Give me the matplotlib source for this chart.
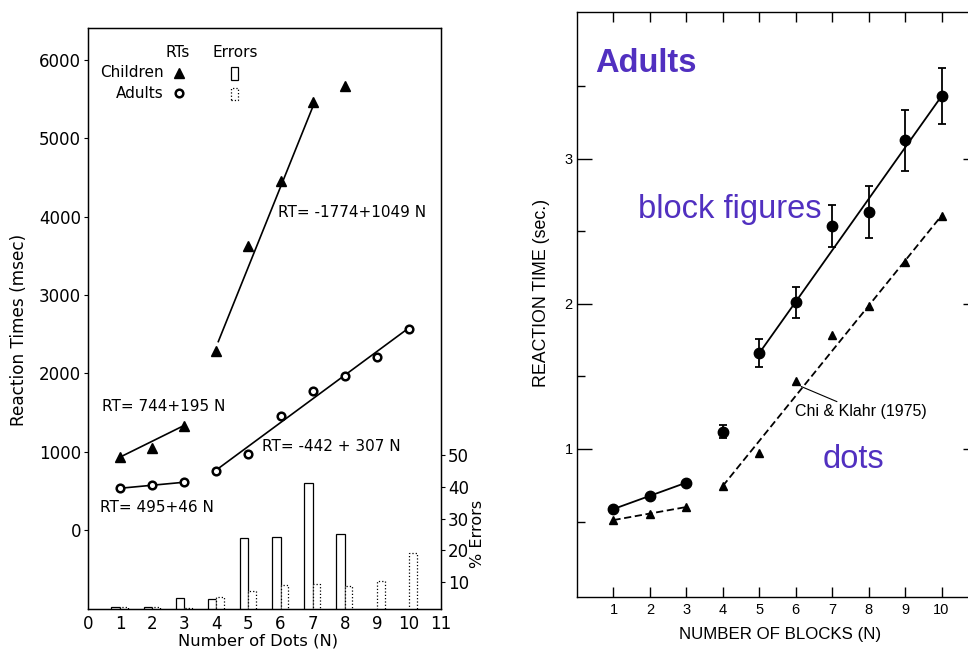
import matplotlib
matplotlib.use('Agg')
import matplotlib.pyplot as plt
from matplotlib.patches import Rectangle

# ---------------- Left panel data (Number of Dots) ----------------
n_dots = [1, 2, 3, 4, 5, 6, 7, 8, 9, 10]
child_n = [1, 2, 3, 4, 5, 6, 7, 8]
child_rt = [935, 1050, 1330, 2280, 3620, 4450, 5470, 5675]
adult_rt = [530, 575, 610, 757, 970, 1460, 1775, 1970, 2205, 2565]
child_err = [2.0, 2.0, 5.0, 4.7, 23.9, 24.3, 41.1, 25.1]
adult_err = [2.0, 2.0, 1.8, 5.4, 7.3, 9.1, 9.4, 8.6, 10.2, 19.1]
child_fit1_n, child_fit1_rt = [1, 3], [930, 1335]
child_fit2_n, child_fit2_rt = [4.06, 7.05], [2405, 5450]
adult_fit1_n, adult_fit1_rt = [1, 3], [532, 609]
adult_fit2_n, adult_fit2_rt = [4, 10], [766, 2580]
left_yticks = [0, 1000, 2000, 3000, 4000, 5000, 6000]
left_xticks = [0, 1, 2, 3, 4, 5, 6, 7, 8, 9, 10, 11]
err_ticks = [10, 20, 30, 40, 50]

# ---------------- Right panel data (Number of Blocks) ----------------
n_blocks = [1, 2, 3, 4, 5, 6, 7, 8, 9, 10]
block_rt = [0.586, 0.676, 0.768, 1.12, 1.66, 2.009, 2.533, 2.63, 3.126, 3.43]
block_sem = [0, 0, 0, 0.045, 0.097, 0.11, 0.145, 0.18, 0.21, 0.195]
dots_rt = [0.51, 0.55, 0.60, 0.745, 0.975, 1.469, 1.786, 1.986, 2.29, 2.607]
block_fit1_n, block_fit1_rt = [1, 3], [0.586, 0.768]
block_fit2_n, block_fit2_rt = [5, 10], [1.66, 3.43]
dots_fit1_n, dots_fit1_rt = [1, 3], [0.51, 0.60]
dots_fit2_n, dots_fit2_rt = [4, 10], [0.745, 2.607]

PURPLE = '#5130c0'

fig = plt.figure(figsize=(9.68, 6.49), dpi=100)

# ================= LEFT PANEL =================
axL = fig.add_axes([88/968, 1-609/649, 353/968, 581/649])
axL.set_xlim(0, 11)
axL.set_ylim(-1010, 6410)
for s in axL.spines.values():
    s.set_linewidth(1.0)

axE = axL.twinx()
axE.set_ylim(1.5, 184.5)
axE.set_yticks(err_ticks)
axE.tick_params(axis='y', direction='out', length=3, width=0.8, labelsize=12, pad=2)

# error bars
axE.bar([n - 0.27 for n in child_n], child_err, width=0.27, align='edge',
        facecolor='white', edgecolor='black', linewidth=0.9, zorder=1)
axE.bar(n_dots, adult_err, width=0.24, align='edge',
        facecolor='white', edgecolor='black', linewidth=0.9, linestyle=':', zorder=1)
axE.set_ylabel('% Errors', fontsize=11.5, rotation=90)
axE.yaxis.set_label_coords(1.082, 0.13)

axL.set_zorder(axE.get_zorder() + 1)
axL.patch.set_visible(False)

# RT lines
axL.plot(child_fit1_n, child_fit1_rt, color='black', lw=1.2)
axL.plot(child_fit2_n, child_fit2_rt, color='black', lw=1.2)
axL.plot(adult_fit1_n, adult_fit1_rt, color='black', lw=1.2)
axL.plot(adult_fit2_n, adult_fit2_rt, color='black', lw=1.2)
axL.plot(child_n, child_rt, linestyle='none', marker='^', ms=7, color='black')
axL.plot(n_dots, adult_rt, linestyle='none', marker='o', ms=5.5, mfc='white',
         mec='black', mew=1.8)

axL.set_yticks(left_yticks)
axL.set_xticks(left_xticks)
axL.tick_params(axis='y', direction='out', length=3, width=0.8, labelsize=12, pad=2)
axL.tick_params(axis='x', length=0, labelsize=12, pad=4)
axL.set_xlabel('Number of Dots (N)', fontsize=11.8)
axL.xaxis.set_label_coords(0.4816, -0.042)
axL.set_ylabel('Reaction Times (msec)', fontsize=12.2)
axL.yaxis.set_label_coords(-0.17, 0.48)

# equations
axL.text(5.92, 4001, 'RT= -1774+1049 N', fontsize=11)
axL.text(0.44, 1524, 'RT= 744+195 N', fontsize=11)
axL.text(5.41, 1013, 'RT= -442 + 307 N', fontsize=11)
axL.text(0.37, 226, 'RT= 495+46 N', fontsize=11)

# legend (drawn manually in axes coordinates)
tA = axL.transAxes
axL.text(0.255, 0.950, 'RTs', transform=tA, fontsize=11, ha='center')
axL.text(0.416, 0.950, 'Errors', transform=tA, fontsize=11, ha='center')
axL.text(0.215, 0.9157, 'Children', transform=tA, fontsize=11, ha='right')
axL.text(0.215, 0.8795, 'Adults', transform=tA, fontsize=11, ha='right')
axL.plot([0.258], [0.9225], transform=tA, marker='^', ms=7, color='black')
axL.plot([0.258], [0.888], transform=tA, marker='o', ms=5.5, mfc='white',
         mec='black', mew=1.8)
axL.add_patch(Rectangle((0.406, 0.9105), 0.02, 0.0225, transform=tA,
                        facecolor='white', edgecolor='black', lw=0.9))
axL.add_patch(Rectangle((0.406, 0.876), 0.02, 0.0205, transform=tA,
                        facecolor='white', edgecolor='black', lw=0.9, linestyle=':'))

# ================= RIGHT PANEL =================
axR = fig.add_axes([577/968, 1-597/649, 401/968, 585/649])
axR.set_xlim(0, 11)
axR.set_ylim(-0.02, 4.01)
for s in axR.spines.values():
    s.set_linewidth(1.0)

axR.plot(block_fit1_n, block_fit1_rt, color='black', lw=1.3)
axR.plot(block_fit2_n, block_fit2_rt, color='black', lw=1.3)
axR.plot(dots_fit1_n, dots_fit1_rt, color='black', lw=1.3, linestyle=(0, (4, 2)))
axR.plot(dots_fit2_n, dots_fit2_rt, color='black', lw=1.3, linestyle=(0, (4, 2)))
axR.errorbar(n_blocks, block_rt, yerr=block_sem, fmt='o', ms=7.5, color='black',
             ecolor='black', elinewidth=1.3, capsize=3, capthick=1.3)
axR.plot(n_blocks, dots_rt, linestyle='none', marker='^', ms=6, color='black')

axR.set_xticks(n_blocks)
axR.set_yticks([1, 2, 3])
axR.set_yticks([0.5, 1.5, 2.5, 3.5], minor=True)
axR.tick_params(axis='both', which='both', direction='in', top=True, right=True,
                labelsize=10.5, width=1.0)
axR.tick_params(axis='x', length=7, pad=4)
axR.tick_params(axis='y', which='major', length=11, pad=3)
axR.tick_params(axis='y', which='minor', length=6)
for lab in axR.get_xticklabels() + axR.get_yticklabels():
    lab.set_family('Liberation Sans')

axR.set_xlabel('NUMBER OF BLOCKS (N)', fontsize=12.2, family='Liberation Sans')
axR.xaxis.set_label_coords(0.506, -0.052)
axR.set_ylabel('REACTION TIME (sec.)', fontsize=12.8, family='Liberation Sans')
axR.yaxis.set_label_coords(-0.068, 0.52)

axR.annotate('Chi & Klahr (1975)', xy=(6.15, 1.43), xytext=(5.99, 1.255),
             fontsize=11.5, family='Liberation Sans', va='center', ha='left',
             arrowprops=dict(arrowstyle='-', lw=0.8, color='black',
                             shrinkA=0, shrinkB=0))

axR.text(0.51, 3.6, 'Adults', fontsize=23.5, fontweight='bold', color=PURPLE,
         family='Liberation Sans', va='baseline')
axR.text(1.68, 2.593, 'block figures', fontsize=23.5, color=PURPLE,
         family='Liberation Sans', va='baseline')
axR.text(6.75, 0.869, 'dots', fontsize=23.5, color=PURPLE,
         family='Liberation Sans', va='baseline')

fig.savefig('out.png', dpi=100)
